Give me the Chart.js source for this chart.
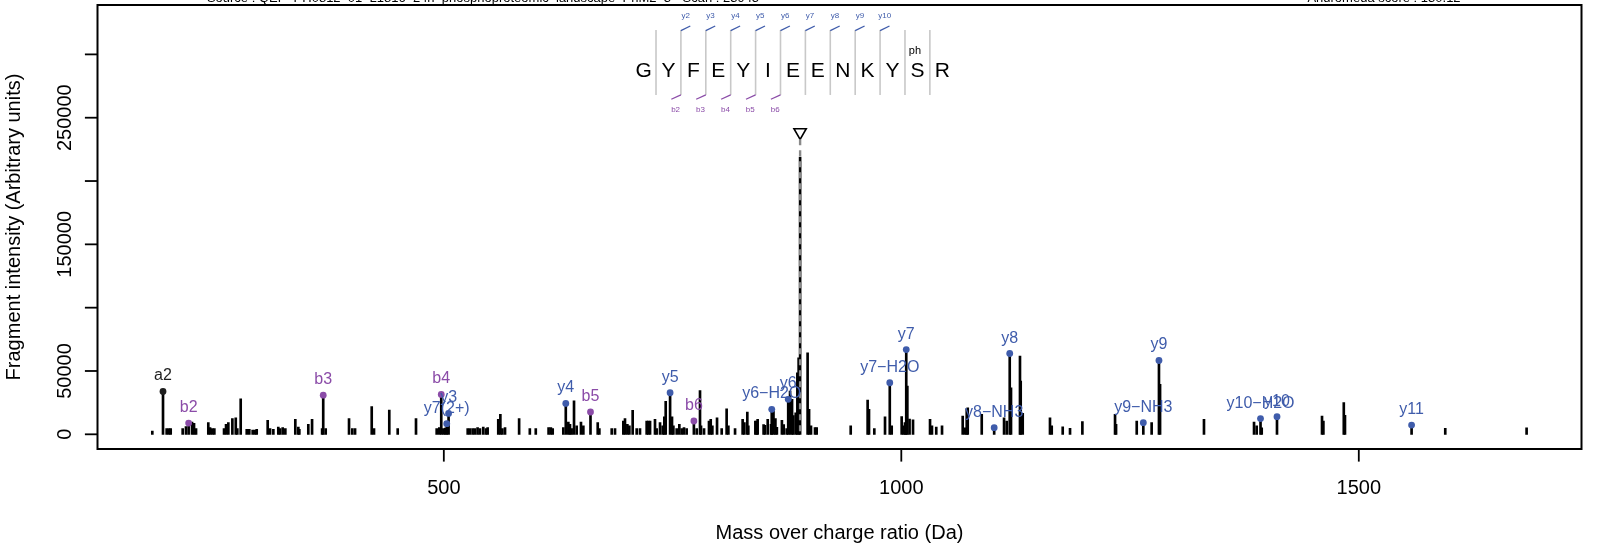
<!DOCTYPE html>
<html>
<head>
<meta charset="utf-8">
<title>Annotated fragment spectrum</title>
<script src="https://cdn.jsdelivr.net/npm/chart.js@4.4.1/dist/chart.umd.min.js"></script>
<style>
  html, body { margin: 0; padding: 0; background: #ffffff; }
  #wrap { width: 1610px; height: 550px; }
</style>
</head>
<body>
<div id="wrap"><canvas id="spectrum" width="1610" height="550"></canvas></div>
<script>
// ---- data ----
const headerLeft = "Source : QEP_PH0812_01_L1816_24h_phosphoproteomic_landscape_PhM2_3 - Scan : 23945";
const headerRight = "Andromeda score : 130.12";
const xTitle = "Mass over charge ratio (Da)";
const yTitle = "Fragment intensity (Arbitrary units)";

const xTicks = [500, 1000, 1500];
const yTicks = [0, 50000, 100000, 150000, 200000, 250000, 300000];
const yTickLabels = ["0", "50000", "", "150000", "", "250000", ""];

// unassigned peaks (m/z, intensity)
const peakMz = [
  181.4, 197.1, 199.7, 201.5, 214.6, 218.2, 224.8, 227.0, 229.2, 242.6, 244.5, 247.0, 249.2,
  259.8, 262.0, 264.5, 268.9, 272.6, 274.3, 278.0, 284.6, 287.4, 291.1, 293.7, 295.5,
  307.5, 310.1, 313.7, 319.1, 321.0, 323.9, 326.8, 337.7, 341.0, 342.1, 351.9, 356.0,
  367.0, 370.9, 396.4, 400.0, 403.0, 421.2, 423.7, 440.4, 449.6, 469.6, 492.2, 495.1,
  499.5, 501.6, 526.1, 528.6, 531.5, 534.0, 536.9, 539.5, 543.1, 546.0, 547.9, 559.5,
  561.8, 564.0, 566.9, 582.3, 594.0, 600.5, 614.5, 617.0, 619.0, 630.6, 636.1, 637.9,
  639.7, 642.3, 645.2, 649.9, 652.5, 668.2, 670.0, 683.5, 687.1, 696.2, 698.0, 700.6,
  702.8, 706.4, 710.8, 714.4, 721.7, 723.5, 725.4, 730.8, 732.6, 736.3, 739.2, 741.0,
  742.5, 749.4, 750.9, 754.5, 757.4, 760.0, 762.5, 765.4, 776.4, 780.0, 781.1, 784.4,
  789.8, 791.7, 793.5, 798.6, 803.7, 809.1, 811.0, 818.3, 826.6, 828.5, 831.7, 832.8,
  840.5, 841.9, 843.0, 849.5, 851.0, 854.0, 857.6, 860.3, 862.4, 864.0, 869.5, 871.5,
  874.7, 878.4, 880.6, 882.0, 884.6, 886.4, 887.8, 897.6, 899.2, 901.3, 905.7, 907.5,
  944.7, 963.2, 964.7, 970.5, 982.2, 989.5, 1000.4, 1002.5, 1004.0, 1006.6, 1009.0, 1012.8,
  1031.4, 1033.5, 1038.2, 1044.5, 1067.1, 1069.6, 1071.5, 1072.6, 1087.9, 1112.3, 1115.2,
  1119.9, 1129.7, 1130.5, 1132.7, 1162.5, 1164.4, 1176.4, 1184.4, 1197.9, 1233.6, 1234.7,
  1257.3, 1273.6, 1282.8, 1330.8, 1385.5, 1388.4, 1393.9, 1459.8, 1461.3, 1483.6, 1484.9,
  1594.5, 1683.4
];
const peakIntensity = [
  2600, 4500, 4500, 4500, 4500, 6100, 9700, 8700, 4500, 9200, 5300, 4500, 4500,
  4500, 7900, 9200, 12400, 13100, 4500, 28100, 3900, 3900, 3400, 3400, 3900,
  11000, 4500, 3900, 5800, 4500, 5300, 4500, 11800, 5800, 3900, 7900, 11800,
  4500, 4500, 12400, 4500, 4500, 21800, 4500, 19200, 4500, 12400, 4500, 5300,
  4500, 5000, 4500, 4500, 4500, 4500, 5300, 4500, 5800, 4500, 5300, 11800,
  15800, 4500, 5300, 12400, 4500, 4500, 5300, 5300, 4500, 5300, 9700, 7900,
  4500, 26500, 6600, 9700, 6600, 9200, 4500, 4500, 4500, 10500, 12400, 7900,
  6600, 18900, 4500, 4500, 10500, 10500, 10500, 11800, 4500, 9200, 6600, 13900,
  26000, 13900, 6600, 4500, 7900, 4500, 5300, 4500, 4500, 34600, 6600, 4500,
  10500, 11800, 6600, 13100, 4500, 20200, 6600, 4500, 11800, 9200, 17600, 6600,
  10500, 10500, 11800, 7600, 7000, 11800, 7900, 18400, 12400, 5500, 11000, 7600,
  4500, 34100, 27600, 14700, 17000, 48600, 60400, 64300, 19700, 6600, 5300, 5300,
  6600, 27000, 19700, 4500, 13900, 6600, 14000, 6600, 9200, 38000, 12000, 11500,
  11800, 6600, 5800, 6600, 14400, 5200, 19700, 21000, 15800, 13100, 10500,
  36800, 61700, 42000, 16500, 13100, 6600, 6000, 4700, 10000, 15800, 7900,
  10500, 9200, 39400, 11800, 9700, 6600, 5200, 14400, 10500, 25000, 15000,
  4700, 5200
];

// assigned fragment ions
const ionLabels = ["a2", "b2", "b3", "b4", "y7(2+)", "y3", "y4", "b5", "y5", "b6",
  "y6\u2212H2O", "y6", "y7\u2212H2O", "y7", "y8\u2212NH3", "y8", "y9\u2212NH3", "y9",
  "y10\u2212H2O", "y10", "y11"];
const ionType = ["a", "b", "b", "b", "y", "y", "y", "b", "y", "b",
  "y", "y", "y", "y", "y", "y", "y", "y", "y", "y", "y"];
const ionMz = [193.1, 221.1, 368.2, 497.2, 503.2, 505.2, 633.3, 660.3, 747.3, 773.3,
  858.4, 876.4, 987.4, 1005.4, 1101.5, 1118.5, 1264.5, 1281.6, 1392.6, 1410.6, 1557.7];
const ionIntensity = [33900, 8900, 30900, 31500, 8400, 16500, 24400, 17600, 32800, 10500,
  19700, 27600, 40700, 66900, 5200, 63800, 9200, 58300, 12400, 13900, 7300];

// precursor
const precursorMz = 889.4;
const precursorIntensity = 219000;
const precursorMarker = 238500;

// peptide sequence with fragment coverage
const peptide = ["G", "Y", "F", "E", "Y", "I", "E", "E", "N", "K", "Y", "S", "R"];
const residueMods = ["", "", "", "", "", "", "", "", "", "", "", "ph", ""];
const yHookLabels = ["y2", "y3", "y4", "y5", "y6", "y7", "y8", "y9", "y10"];
const bHookLabels = ["b2", "b3", "b4", "b5", "b6"];
const sequenceStartMz = 718.3;
const sequenceStepMz = 27.21;
const sequenceRowIntensity = 287700;

// ---- styling ----
const FONT = '"Liberation Sans", Arial, Helvetica, sans-serif';
const ionColors = { a: "#1e1e1e", b: "#8b4ca8", y: "#3f5cab" };

function ionPoints(type) {
  const pts = [];
  ionMz.forEach((mz, i) => {
    if (ionType[i] === type) pts.push({ x: mz, y: ionIntensity[i], label: ionLabels[i] });
  });
  return pts;
}

const peakBars = peakMz.map((mz, i) => ({ x: mz, y: peakIntensity[i] }))
  .concat(ionMz.map((mz, i) => ({ x: mz, y: ionIntensity[i] })))
  .concat([{ x: precursorMz, y: precursorIntensity }]);

function line(ctx, x1, y1, x2, y2) {
  ctx.beginPath();
  ctx.moveTo(x1, y1);
  ctx.lineTo(x2, y2);
  ctx.stroke();
}

// R-like frame, ticks and titles
const rFrame = {
  id: "rFrame",
  afterDraw(chart) {
    const { ctx, chartArea: a, scales: { x, y } } = chart;
    ctx.save();
    ctx.strokeStyle = "#000";
    ctx.fillStyle = "#000";
    ctx.lineWidth = 2;
    ctx.strokeRect(a.left, a.top, a.right - a.left, a.bottom - a.top);

    ctx.lineWidth = 1.8;
    ctx.font = "20px " + FONT;
    ctx.textAlign = "center";
    ctx.textBaseline = "alphabetic";
    xTicks.forEach((v) => {
      const px = x.getPixelForValue(v);
      line(ctx, px, a.bottom, px, a.bottom + 12.6);
      ctx.fillText(String(v), px, a.bottom + 45.2);
    });
    ctx.fillText(xTitle, (a.left + a.right) / 2, a.bottom + 90);

    yTicks.forEach((v, i) => {
      const py = y.getPixelForValue(v);
      line(ctx, a.left, py, a.left - 12.6, py);
      if (yTickLabels[i]) {
        ctx.save();
        ctx.translate(a.left - 26.3, py);
        ctx.rotate(-Math.PI / 2);
        ctx.fillText(yTickLabels[i], 0, 0);
        ctx.restore();
      }
    });
    ctx.save();
    ctx.translate(19.7, (a.top + a.bottom) / 2);
    ctx.rotate(-Math.PI / 2);
    ctx.fillText(yTitle, 0, 0);
    ctx.restore();

    // header lines (cut by the top edge)
    ctx.font = "13px " + FONT;
    ctx.fillText(headerLeft, 483, 2);
    ctx.fillText(headerRight, 1384, 2);
    ctx.restore();
  }
};

// ion labels above the dots + precursor dashed line
const ionText = {
  id: "ionText",
  afterDatasetsDraw(chart) {
    const { ctx, scales: { x, y } } = chart;
    ctx.save();
    const px = x.getPixelForValue(precursorMz);
    const top = y.getPixelForValue(precursorMarker) + 7.1;
    ctx.strokeStyle = "#8a8a8a";
    ctx.lineWidth = 2.4;
    ctx.setLineDash([6, 5]);
    line(ctx, px, top, px, y.getPixelForValue(0));
    ctx.setLineDash([]);

    ctx.font = "16px " + FONT;
    ctx.textAlign = "center";
    ctx.textBaseline = "alphabetic";
    chart.data.datasets.forEach((ds, di) => {
      if (!ds.ionType) return;
      const meta = chart.getDatasetMeta(di);
      ctx.fillStyle = ionColors[ds.ionType];
      meta.data.forEach((pt, i) => {
        ctx.fillText(ds.data[i].label, pt.x, pt.y - 11);
      });
    });
    ctx.restore();
  }
};

// peptide sequence with b / y coverage hooks
const sequenceMap = {
  id: "sequenceMap",
  afterDraw(chart) {
    const { ctx, scales: { x, y } } = chart;
    const rowY = y.getPixelForValue(sequenceRowIntensity);
    const cx = (i) => x.getPixelForValue(sequenceStartMz + i * sequenceStepMz);
    const sepX = (k) => (cx(k) + cx(k + 1)) / 2;
    ctx.save();
    ctx.lineWidth = 1.6;
    ctx.strokeStyle = "#c8c8c8";
    for (let k = 0; k < peptide.length - 1; k++) {
      line(ctx, sepX(k), rowY - 40, sepX(k), rowY + 25);
    }
    ctx.lineWidth = 1.3;
    ctx.textAlign = "center";
    ctx.font = "8px " + FONT;
    yHookLabels.forEach((lab, j) => {
      const sx = sepX(j + 1);
      ctx.strokeStyle = ionColors.y;
      ctx.fillStyle = ionColors.y;
      line(ctx, sx, rowY - 39.3, sx + 9.4, rowY - 44);
      ctx.fillText(lab, sx + 4.7, rowY - 52);
    });
    bHookLabels.forEach((lab, j) => {
      const sx = sepX(j + 1);
      ctx.strokeStyle = ionColors.b;
      ctx.fillStyle = ionColors.b;
      line(ctx, sx, rowY + 25, sx - 9.6, rowY + 29.3);
      ctx.fillText(lab, sx - 5.3, rowY + 41.9);
    });
    ctx.fillStyle = "#000";
    ctx.font = "21px " + FONT;
    peptide.forEach((aa, i) => ctx.fillText(aa, cx(i), rowY + 7.5));
    ctx.font = "11px " + FONT;
    residueMods.forEach((m, i) => {
      if (m) ctx.fillText(m, cx(i) - 2.5, rowY - 15.5);
    });
    ctx.restore();
  }
};

new Chart(document.getElementById("spectrum"), {
  type: "bar",
  data: {
    datasets: [
      {
        type: "scatter",
        data: [{ x: precursorMz, y: precursorMarker }],
        pointStyle: "triangle",
        rotation: 180,
        pointRadius: 7.1,
        pointBackgroundColor: "#ffffff",
        pointBorderColor: "#000000",
        pointBorderWidth: 1.6,
        order: 0
      },
      {
        type: "scatter", ionType: "a", data: ionPoints("a"),
        pointRadius: 3.4, pointBackgroundColor: ionColors.a, pointBorderWidth: 0, order: 0
      },
      {
        type: "scatter", ionType: "b", data: ionPoints("b"),
        pointRadius: 3.4, pointBackgroundColor: ionColors.b, pointBorderWidth: 0, order: 0
      },
      {
        type: "scatter", ionType: "y", data: ionPoints("y"),
        pointRadius: 3.4, pointBackgroundColor: ionColors.y, pointBorderWidth: 0, order: 0
      },
      {
        type: "bar",
        data: peakBars,
        backgroundColor: "#000000",
        borderWidth: 0,
        barThickness: 2,
        grouped: false,
        order: 1
      }
    ]
  },
  options: {
    responsive: false,
    animation: false,
    devicePixelRatio: 1,
    events: [],
    layout: { autoPadding: false, padding: { left: 97.5, right: 28.5, top: 5, bottom: 101 } },
    scales: {
      x: { type: "linear", min: 121.5, max: 1743.4, offset: false, display: false },
      y: { type: "linear", min: -11600, max: 339000, display: false }
    },
    plugins: {
      legend: { display: false },
      tooltip: { enabled: false }
    }
  },
  plugins: [rFrame, ionText, sequenceMap]
});
</script>
</body>
</html>
